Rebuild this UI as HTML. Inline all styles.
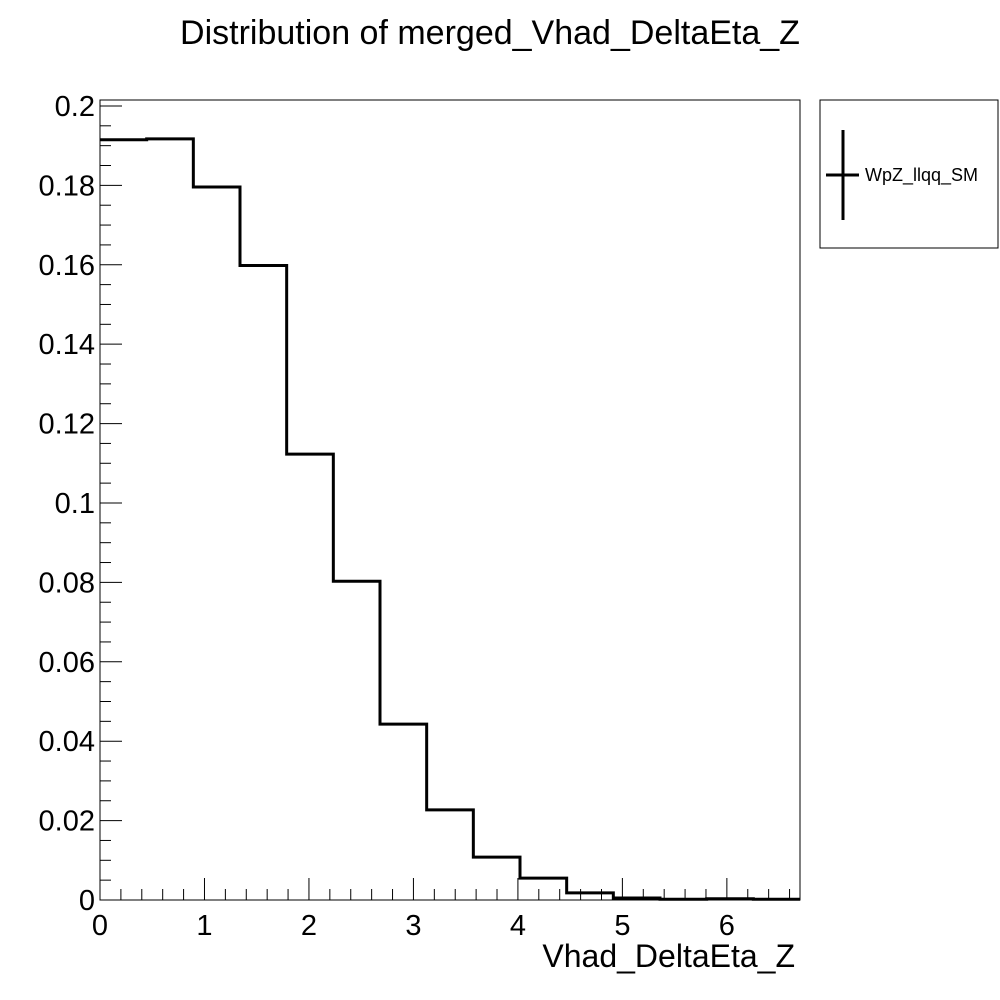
<!DOCTYPE html>
<html><head><meta charset="utf-8"><style>
body{margin:0;background:#fff;}
svg{display:block;font-family:"Liberation Sans",Arial,sans-serif;}
</style></head><body>
<svg id="chart" width="1000" height="1000">
<text x="490" y="44" font-size="34" text-anchor="middle">Distribution of merged_Vhad_DeltaEta_Z</text>
<rect x="100" y="100" width="700" height="800" fill="none" stroke="#000" stroke-width="1"/>
<g id="axes"></g>
<path id="hist" fill="none" stroke="#000" stroke-width="3"/>
<text x="795" y="967" font-size="32" text-anchor="end">Vhad_DeltaEta_Z</text>
<g>
<rect x="820" y="100" width="178" height="148" fill="#fff" stroke="#000" stroke-width="1"/>
<line x1="843" y1="130" x2="843" y2="220" stroke="#000" stroke-width="3"/>
<line x1="826" y1="175" x2="859" y2="175" stroke="#000" stroke-width="3"/>
<text x="865" y="181" font-size="18">WpZ_llqq_SM</text>
</g>
</svg>
<script>
const binEdgesMax = 6.7;
const nBins = 15;
const values = [0.1915,0.1917,0.1796,0.1598,0.1123,0.0803,0.0443,0.0227,0.0108,0.0055,0.0018,0.0005,0.0002,0.0003,0.0002];
const xTicks = [0,1,2,3,4,5,6];
const yTicks = [0,0.02,0.04,0.06,0.08,0.1,0.12,0.14,0.16,0.18,0.2];
const yTickLabels = ["0","0.02","0.04","0.06","0.08","0.1","0.12","0.14","0.16","0.18","0.2"];
const X0=100,X1=800,Y0=900,Y1=100,YMAX=0.2015;
const xs=v=>X0+(v/binEdgesMax)*(X1-X0);
const ys=v=>Y0-(v/YMAX)*(Y0-Y1);
const NS="http://www.w3.org/2000/svg";
const ax=document.getElementById('axes');
function mk(tag,attrs){const e=document.createElementNS(NS,tag);for(const k in attrs)e.setAttribute(k,attrs[k]);ax.appendChild(e);return e;}
for(let v=0;v<=binEdgesMax+1e-9;v+=0.2){
  const major=Math.abs(v-Math.round(v))<1e-6;
  const l=mk('line',{x1:xs(v),x2:xs(v),y1:Y0,y2:Y0-(major?22:11),stroke:'#000','stroke-width':1});
  
  
}
xTicks.forEach(v=>{
  const t=mk('text',{x:xs(v),y:Y0+35,'font-size':29,'text-anchor':'middle'});
  t.textContent=v;
  
  
});
for(let i=0;i<=40;i++){
  const v=i*0.005; if(v>YMAX)break;
  const major=i%4===0;
  const l=mk('line',{x1:X0,x2:X0+(major?22:11),y1:ys(v),y2:ys(v),stroke:'#000','stroke-width':1});
  
  
}
yTicks.forEach((v,i)=>{
  const t=mk('text',{x:X0-5,y:ys(v)+10,'font-size':29,'text-anchor':'end'});
  t.textContent=yTickLabels[i];
  
  
});
const w=binEdgesMax/nBins;
let d='M'+xs(0)+','+ys(values[0]);
values.forEach((v,i)=>{d+=' L'+xs(i*w)+','+ys(v)+' L'+xs((i+1)*w)+','+ys(v);});
document.getElementById('hist').setAttribute('d',d);
</script>
</body></html>
